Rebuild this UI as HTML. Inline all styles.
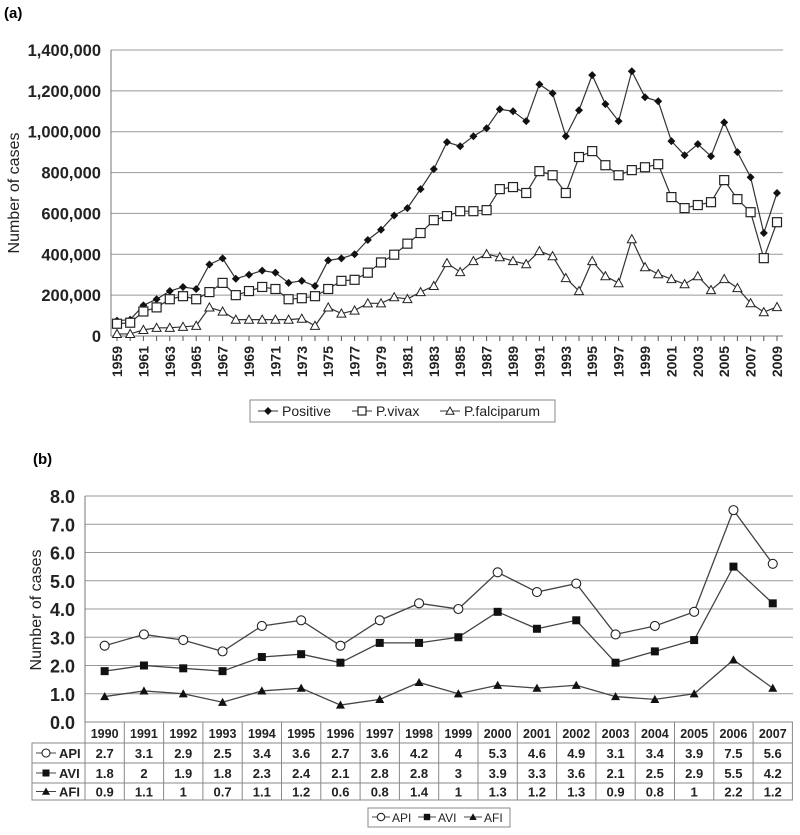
<!DOCTYPE html>
<html><head><meta charset="utf-8"><style>
body{margin:0;background:#fff;font-family:"Liberation Sans",Arial,sans-serif}
svg text{font-family:"Liberation Sans",Arial,sans-serif}
</style></head><body>
<svg id="svg" width="800" height="830" xmlns="http://www.w3.org/2000/svg">
<text x="4" y="18" font-size="15" font-weight="bold">(a)</text>
<text x="33" y="464" font-size="15" font-weight="bold">(b)</text>
<g id="ga"></g>
<g id="gb"></g>
</svg>
<script>
const yearsA=[];for(let y=1959;y<=2009;y++)yearsA.push(y);
const positive=[75,80,150,180,220,240,230,350,380,280,300,320,310,260,270,245,370,380,400,470,520,590,626,719,817,949,929,978,1017,1110,1100,1052,1232,1188,978,1105,1277,1135,1052,1296,1169,1149,954,885,939,880,1046,900,777,504,700];
const vivax=[60,65,120,140,180,195,180,215,260,200,220,240,230,180,185,195,230,270,275,310,360,398,452,504,567,587,611,611,616,719,729,700,807,787,700,876,905,836,787,812,826,841,680,626,641,655,763,670,606,381,557];
const falciparum=[10,10,30,40,40,45,50,140,120,80,80,80,80,80,85,50,140,110,125,160,160,190,181,215,245,357,313,367,401,386,367,352,416,391,284,220,367,293,259,474,337,303,279,254,293,225,279,235,161,117,142];
const yTicksA=[0,200000,400000,600000,800000,1000000,1200000,1400000];
const yearsB=[1990,1991,1992,1993,1994,1995,1996,1997,1998,1999,2000,2001,2002,2003,2004,2005,2006,2007];
const api=[2.7,3.1,2.9,2.5,3.4,3.6,2.7,3.6,4.2,4,5.3,4.6,4.9,3.1,3.4,3.9,7.5,5.6];
const avi=[1.8,2,1.9,1.8,2.3,2.4,2.1,2.8,2.8,3,3.9,3.3,3.6,2.1,2.5,2.9,5.5,4.2];
const afi=[0.9,1.1,1,0.7,1.1,1.2,0.6,0.8,1.4,1,1.3,1.2,1.3,0.9,0.8,1,2.2,1.2];
const yTicksB=[0,1,2,3,4,5,6,7,8];
const NS='http://www.w3.org/2000/svg';
function mk(p,t,a,txt){const e=document.createElementNS(NS,t);for(const k in a)e.setAttribute(k,a[k]);if(txt!==undefined)e.textContent=txt;p.appendChild(e);return e;}
function marker(p,kind,x,y,s){
 let e;
 if(kind==='diamond')e=mk(p,'polygon',{points:`${x},${y-s} ${x+s},${y} ${x},${y+s} ${x-s},${y}`,fill:'#111'});
 else if(kind==='sq-open')e=mk(p,'rect',{x:x-s,y:y-s,width:2*s,height:2*s,fill:'#fff',stroke:'#222','stroke-width':1.2});
 else if(kind==='sq')e=mk(p,'rect',{x:x-s,y:y-s,width:2*s,height:2*s,fill:'#111'});
 else if(kind==='tri-open')e=mk(p,'polygon',{points:`${x},${y-s} ${x+s},${y+s*0.8} ${x-s},${y+s*0.8}`,fill:'#fff',stroke:'#222','stroke-width':1});
 else if(kind==='tri')e=mk(p,'polygon',{points:`${x},${y-s} ${x+s},${y+s*0.8} ${x-s},${y+s*0.8}`,fill:'#111'});
 else if(kind==='circ')e=mk(p,'circle',{cx:x,cy:y,r:s,fill:'#fff',stroke:'#222','stroke-width':1.1});
 return e;
}
// Chart A
const ga=document.getElementById('ga');
const ax=y=>117+(y-1959)*13.2, ay=v=>336-v/1400000*286;
yTicksA.forEach(t=>{
 const l=mk(ga,'line',{x1:111,x2:783,y1:ay(t),y2:ay(t),stroke:t?'#999':'#777','stroke-width':1});
 
 const tx=mk(ga,'text',{x:101,y:ay(t)+6,'text-anchor':'end','font-size':16.5,'font-weight':'bold',fill:'#222'},t.toLocaleString('en-US'));
 
});
mk(ga,'line',{x1:111,x2:111,y1:50,y2:336,stroke:'#777'});
yearsA.forEach(y=>{
 mk(ga,'line',{x1:ax(y),x2:ax(y),y1:336,y2:341,stroke:'#555'});
 if((y-1959)%2===0){const tx=mk(ga,'text',{transform:`translate(${ax(y)+5},${346}) rotate(-90)`,'text-anchor':'end','font-size':14,'font-weight':'bold',fill:'#222'},y);
 }
});
{const t=mk(ga,'text',{transform:'translate(19,193) rotate(-90)','text-anchor':'middle','font-size':16,fill:'#222'},'Number of cases');
}
[[positive,'diamond',4,'series-positive'],[vivax,'sq-open',4.5,'series-vivax'],[falciparum,'tri-open',4.5,'series-falciparum']].forEach(([d,k,s,n])=>{
 const g=mk(ga,'g',{});
 mk(g,'polyline',{points:d.map((v,i)=>ax(yearsA[i])+','+ay(v*1000)).join(' '),fill:'none',stroke:'#333','stroke-width':1.2});
 d.forEach((v,i)=>marker(g,k,ax(yearsA[i]),ay(v*1000),s));
});
{const lg=mk(ga,'g',{});
 mk(lg,'rect',{x:250,y:400,width:305,height:22,fill:'#fff',stroke:'#888'});
 [['diamond','Positive',258],['sq-open','P.vivax',352],['tri-open','P.falciparum',440]].forEach(([k,t,x])=>{
  const e=mk(lg,'g',{});
  mk(e,'line',{x1:x,x2:x+20,y1:411,y2:411,stroke:'#333'});marker(e,k,x+10,411,4);
  mk(e,'text',{x:x+24,y:416,'font-size':14,fill:'#222'},t);
 });}
// Chart B
const gb=document.getElementById('gb');
const cw=39.3, bx=i=>85+cw*(i+0.5), by=v=>722-v*28.25;
yTicksB.forEach(t=>{
 const l=mk(gb,'line',{x1:85,x2:793,y1:by(t),y2:by(t),stroke:'#999'});
 
 const tx=mk(gb,'text',{x:75,y:by(t)+7,'text-anchor':'end','font-size':18,'font-weight':'bold',fill:'#222'},t.toFixed(1));
 
});
mk(gb,'line',{x1:85,x2:85,y1:496,y2:722,stroke:'#777'});
{const t=mk(gb,'text',{transform:'translate(41,610) rotate(-90)','text-anchor':'middle','font-size':16,fill:'#222'},'Number of cases');
}
const sers=[[api,'circ',4.5,'API'],[avi,'sq',4,'AVI'],[afi,'tri',4.5,'AFI']];
sers.forEach(([d,k,s,n])=>{
 const g=mk(gb,'g',{});
 mk(g,'polyline',{points:d.map((v,i)=>bx(i)+','+by(v)).join(' '),fill:'none',stroke:'#444','stroke-width':1.3});
 d.forEach((v,i)=>marker(g,k,bx(i),by(v),s));
});
const tb=mk(gb,'g',{});
const rows=[722,743,763,783,800];
mk(tb,'rect',{x:85,y:722,width:cw*18,height:78,fill:'none',stroke:'#888'});
mk(tb,'rect',{x:32,y:743,width:53,height:57,fill:'none',stroke:'#888'});
for(let i=1;i<18;i++)mk(tb,'line',{x1:85+cw*i,x2:85+cw*i,y1:722,y2:800,stroke:'#888'});
[743,763,783].forEach(y=>mk(tb,'line',{x1:32,x2:85+cw*18,y1:y,y2:y,stroke:'#888'}));
yearsB.forEach((y,i)=>mk(tb,'text',{x:bx(i),y:738,'text-anchor':'middle','font-size':12.5,'font-weight':'bold',fill:'#222'},y));
sers.forEach(([d,k,s,n],r)=>{
 const cy=(rows[r+1]+rows[r+2])/2;
 mk(tb,'line',{x1:36,x2:56,y1:cy,y2:cy,stroke:'#444'});marker(tb,k,46,cy,s-0.5);
 mk(tb,'text',{x:59,y:cy+5,'font-size':13,'font-weight':'bold',fill:'#222'},n);
 d.forEach((v,i)=>mk(tb,'text',{x:bx(i),y:cy+5,'text-anchor':'middle','font-size':13,'font-weight':'bold',fill:'#222'},v));
});
{const lg=mk(gb,'g',{});
 mk(lg,'rect',{x:368,y:808,width:142,height:19,fill:'#fff',stroke:'#888'});
 sers.forEach(([d,k,s,n],j)=>{const x=372+j*46;
  mk(lg,'line',{x1:x,x2:x+18,y1:817,y2:817,stroke:'#444'});marker(lg,k,x+9,817,s-0.8);
  mk(lg,'text',{x:x+20,y:822,'font-size':12,fill:'#222'},n);});}
</script>
</body></html>
